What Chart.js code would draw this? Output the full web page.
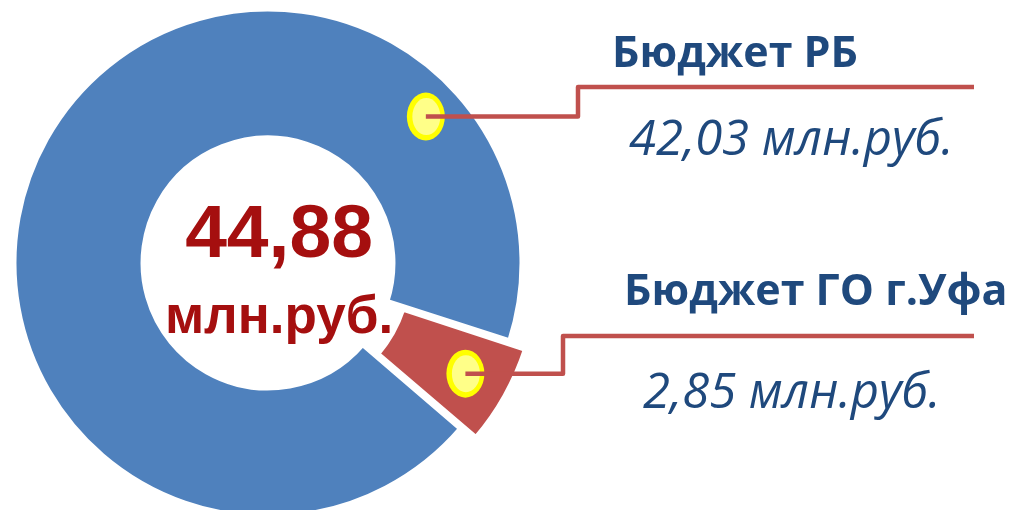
<!DOCTYPE html>
<html>
<head>
<meta charset="utf-8">
<script src="https://cdn.jsdelivr.net/npm/chart.js@4.4.0/dist/chart.umd.min.js"></script>
<style>
html, body { margin: 0; padding: 0; background: #fff; overflow: hidden; }
#wrap { width: 1011px; height: 510px; position: relative; }
</style>
</head>
<body>
<div id="wrap"><canvas id="budgetChart"></canvas></div>
<script>
const labels = ["Бюджет РБ", "Бюджет ГО г.Уфа"];
const values = [42.03, 2.85];
const unit = "млн.руб.";
const colors = ["#4f81bd", "#c0504d"];

// where each callout dot sits on its slice (share along the arc / across the ring)
const calloutAnchors = [
    {along: 0.82, across: 0.7},
    {along: 0.5, across: 0.7}
];
// leader line + text placement
const calloutLayout = [
    {elbowX: 578, lineY: 87, endX: 974, nameX: 612, nameY: 67, valueX: 629, valueY: 155},
    {elbowX: 563, lineY: 336, endX: 974, nameX: 624, nameY: 305, valueX: 643, valueY: 408}
];

const fmt = v => v.toFixed(2).replace('.', ',');
const total = values.reduce((a, b) => a + b, 0);

const calloutPlugin = {
    id: 'callouts',
    afterDatasetsDraw(chart) {
        const ctx = chart.ctx;
        const arcs = chart.getDatasetMeta(0).data;
        ctx.save();
        arcs.forEach((arc, i) => {
            const a = calloutAnchors[i], l = calloutLayout[i];
            const {x, y, startAngle, endAngle, innerRadius, outerRadius} =
                arc.getProps(['x', 'y', 'startAngle', 'endAngle', 'innerRadius', 'outerRadius'], true);
            const shift = (arc.options.offset || 0) / 4;
            const mid = (startAngle + endAngle) / 2;
            const ang = startAngle + (endAngle - startAngle) * a.along;
            const r = innerRadius + (outerRadius - innerRadius) * a.across;
            const px = x + Math.cos(mid) * shift + Math.cos(ang) * r;
            const py = y + Math.sin(mid) * shift + Math.sin(ang) * r;

            // yellow marker
            ctx.fillStyle = '#ffff00';
            ctx.beginPath();
            ctx.ellipse(px, py, 19, 24, 0, 0, Math.PI * 2);
            ctx.fill();
            ctx.fillStyle = '#ffff88';
            ctx.beginPath();
            ctx.ellipse(px + 0.5, py, 14, 18.5, 0, 0, Math.PI * 2);
            ctx.fill();

            // leader line
            ctx.strokeStyle = colors[1];
            ctx.lineWidth = 4.5;
            ctx.lineJoin = 'round';
            ctx.beginPath();
            ctx.moveTo(px, py);
            ctx.lineTo(l.elbowX, py);
            ctx.lineTo(l.elbowX, l.lineY);
            ctx.lineTo(l.endX, l.lineY);
            ctx.stroke();

            // texts
            ctx.fillStyle = '#1f497d';
            ctx.textAlign = 'left';
            ctx.textBaseline = 'alphabetic';
            ctx.font = 'bold 43px "Open Sans"';
            ctx.fillText(labels[i], l.nameX, l.nameY);
            ctx.font = 'italic 49px "Open Sans"';
            ctx.fillText(fmt(values[i]) + ' ' + unit, l.valueX, l.valueY);
        });

        // total in the hole
        const c = arcs[0];
        ctx.fillStyle = '#a50f0f';
        ctx.textAlign = 'center';
        ctx.font = 'bold 75px "Liberation Sans"';
        ctx.fillText(fmt(total), c.x + 11, c.y - 6);
        ctx.font = 'bold 53px "Liberation Sans"';
        ctx.fillText(unit, c.x + 11, c.y + 70);
        ctx.restore();
    }
};

new Chart(document.getElementById('budgetChart'), {
    type: 'doughnut',
    plugins: [calloutPlugin],
    data: {
        labels: labels,
        datasets: [{
            data: values,
            backgroundColor: colors,
            borderColor: '#ffffff',
            borderWidth: 5,
            offset: [0, 44]
        }]
    },
    options: {
        responsive: true,
        maintainAspectRatio: false,
        animation: false,
        radius: 254,
        cutout: '49.2%',
        rotation: 130.7,
        layout: {
            padding: {top: 16, right: 475, bottom: 0, left: 0}
        },
        plugins: {
            legend: {display: false},
            tooltip: {enabled: false}
        }
    }
});
</script>
</body>
</html>
